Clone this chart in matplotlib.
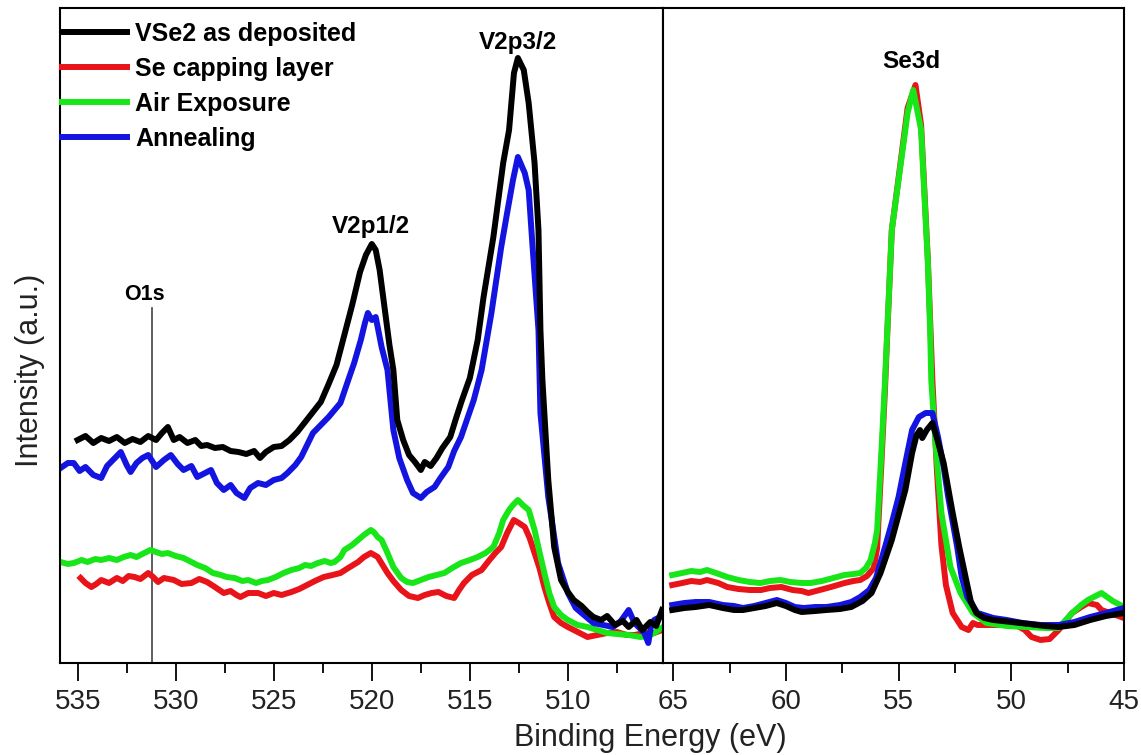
import matplotlib
matplotlib.use("Agg")
import matplotlib.pyplot as plt
from matplotlib.ticker import MultipleLocator

# ---- V2p region (binding energy in eV, intensity in a.u.) ----
e_dep_v = [535.0, 534.6, 534.2, 533.8, 533.4, 533.0, 532.6, 532.2, 531.8, 531.4, 531.0, 530.7, 530.4, 530.1,
           529.8, 529.4, 529.0, 528.7, 528.4, 528.0, 527.6, 527.2, 526.8, 526.4, 526.0, 525.7, 525.4, 525.0,
           524.6, 524.2, 523.8, 523.4, 523.0, 522.6, 522.2, 521.8, 521.4, 521.0, 520.6, 520.3, 520.0, 519.8,
           519.6, 519.4, 519.1, 518.9, 518.7, 518.4, 518.1, 517.8, 517.5, 517.3, 517.0, 516.7, 516.4, 516.0,
           515.7, 515.4, 515.0, 514.6, 514.3, 513.8, 513.3, 513.0, 512.75, 512.55, 512.25, 512.0, 511.7, 511.5,
           511.4, 511.3, 511.0, 510.7, 510.35, 510.0, 509.7, 509.3, 509.0, 508.7, 508.3, 508.0, 507.6, 507.2,
           506.9, 506.5, 506.2, 505.8, 505.5, 505.2]
i_dep_v = [223, 227, 220, 225, 222, 226, 220, 224, 221, 227, 223, 230, 236, 223,
           226, 220, 223, 217, 218, 215, 216, 212, 211, 209, 212, 205, 211, 216,
           217, 223, 231, 241, 251, 261, 279, 298, 328, 358, 391, 408, 419, 413,
           393, 363, 318, 293, 243, 223, 208, 201, 193, 201, 197, 205, 215, 226,
           245, 263, 285, 323, 366, 426, 500, 533, 590, 605, 593, 560, 500, 433,
           333, 283, 183, 116, 83, 71, 63, 57, 51, 46, 43, 47, 38, 42,
           36, 43, 33, 41, 37, 53]

e_cap_v = [534.85, 534.6, 534.3, 534.05, 533.8, 533.4, 533.0, 532.7, 532.4, 532.1, 531.8, 531.4, 531.15, 530.9,
           530.6, 530.1, 529.7, 529.2, 528.8, 528.4, 528.0, 527.55, 527.2, 526.9, 526.7, 526.3, 525.8, 525.4,
           525.0, 524.6, 524.1, 523.7, 523.3, 522.9, 522.45, 522.0, 521.6, 521.2, 520.7, 520.4, 520.05, 519.7,
           519.45, 519.2, 518.9, 518.5, 518.1, 517.65, 517.3, 516.95, 516.6, 516.2, 515.8, 515.55, 515.3, 514.9,
           514.4, 514.0, 513.7, 513.4, 513.1, 512.76, 512.5, 512.2, 511.95, 511.7, 511.45, 511.2, 510.95, 510.7,
           510.35, 510.0, 509.5, 509.0, 508.5, 508.0, 507.5, 507.0, 506.6, 506.1, 505.6, 505.2]
i_cap_v = [85, 80, 76, 79, 83, 80, 85, 82, 87, 86, 84, 90, 86, 81,
           85, 83, 79, 80, 84, 81, 76, 70, 72, 68, 66, 70, 70, 67,
           70, 68, 71, 74, 78, 82, 86, 88, 90, 95, 101, 106, 110, 106,
           98, 90, 82, 73, 67, 65, 68, 70, 71, 67, 65, 73, 80, 88,
           93, 103, 110, 116, 130, 143, 140, 136, 125, 110, 95, 76, 60, 46,
           40, 36, 31, 26, 28, 30, 31, 28, 28, 30, 30, 33]

e_air_v = [535.87, 535.5, 535.2, 534.8, 534.5, 534.1, 533.8, 533.4, 533.0, 532.65, 532.3, 532.0, 531.6, 531.3,
           531.0, 530.7, 530.4, 530.0, 529.6, 529.2, 528.9, 528.5, 528.1, 527.7, 527.4, 527.0, 526.6, 526.3,
           525.9, 525.6, 525.3, 524.9, 524.5, 524.1, 523.7, 523.4, 523.1, 522.75, 522.4, 522.1, 521.9, 521.6,
           521.4, 521.0, 520.7, 520.4, 520.05, 519.9, 519.7, 519.5, 519.2, 518.9, 518.5, 518.2, 517.9, 517.5,
           517.1, 516.7, 516.3, 515.9, 515.45, 515.0, 514.6, 514.2, 513.8, 513.5, 513.3, 513.0, 512.8, 512.55,
           512.3, 512.0, 511.7, 511.45, 511.2, 510.95, 510.7, 510.35, 510.0, 509.5, 509.0, 508.5, 508.0, 507.5,
           506.9, 506.3, 505.9, 505.6, 505.15]
i_air_v = [101, 99, 100, 103, 101, 104, 103, 105, 103, 106, 108, 106, 110, 113,
           111, 109, 110, 107, 105, 101, 98, 95, 90, 88, 86, 85, 82, 83,
           80, 82, 83, 86, 90, 93, 95, 98, 97, 100, 102, 100, 101, 106,
           113, 118, 123, 128, 133, 131, 126, 123, 110, 96, 85, 81, 80, 83,
           86, 88, 90, 95, 100, 103, 106, 110, 116, 130, 143, 153, 158, 163,
           158, 153, 133, 111, 90, 70, 56, 48, 43, 38, 36, 33, 30, 29,
           28, 26, 27, 30, 36]

e_ann_v = [535.87, 535.5, 535.2, 534.9, 534.6, 534.2, 533.8, 533.5, 533.1, 532.8, 532.5, 532.3, 532.0, 531.7,
           531.4, 531.0, 530.6, 530.25, 529.9, 529.6, 529.2, 528.9, 528.5, 528.2, 527.9, 527.55, 527.2, 526.9,
           526.5, 526.2, 525.8, 525.4, 525.0, 524.6, 524.3, 523.9, 523.6, 523.3, 523.0, 522.6, 522.2, 521.9,
           521.6, 521.2, 520.9, 520.56, 520.35, 520.2, 520.0, 519.8, 519.5, 519.2, 518.9, 518.6, 518.2, 517.9,
           517.5, 517.2, 516.8, 516.5, 516.1, 515.8, 515.45, 515.1, 514.8, 514.4, 513.9, 513.4, 513.1, 512.8,
           512.55, 512.2, 512.0, 511.8, 511.5, 511.4, 511.0, 510.5, 510.0, 509.6, 509.3, 508.7, 508.2, 507.7,
           507.3, 506.9, 506.6, 506.4, 506.1, 505.9, 505.75, 505.6, 505.3]
i_ann_v = [195, 200, 200, 192, 196, 188, 185, 197, 205, 211, 198, 191, 200, 205,
           208, 196, 203, 208, 199, 193, 197, 186, 190, 193, 180, 173, 178, 170,
           165, 175, 180, 178, 183, 185, 190, 198, 206, 218, 230, 238, 246, 253,
           260, 283, 300, 323, 340, 350, 343, 346, 316, 293, 233, 205, 183, 170,
           165, 171, 176, 185, 196, 212, 226, 246, 263, 293, 350, 416, 450, 483,
           506, 490, 473, 416, 333, 250, 166, 100, 70, 55, 50, 40, 38, 36,
           42, 53, 40, 36, 30, 20, 38, 43, 46]

# ---- Se3d region ----
e_dep_se = [65.04, 64.5, 64.0, 63.4, 62.8, 62.3, 61.9, 61.4, 60.9, 60.4, 60.0, 59.6, 59.3, 58.7, 58.2,
            57.6, 57.1, 56.6, 56.2, 55.8, 55.3, 55.0, 54.7, 54.4, 54.2, 54.05, 53.95, 53.75, 53.5, 53.3,
            53.0, 52.8, 52.6, 52.3, 52.0, 51.8, 51.55, 51.2, 50.8, 50.0, 49.2, 48.5, 47.9, 47.2, 46.5,
            45.8, 45.0]
i_dep_se = [53, 55, 56, 58, 55, 53, 53, 55, 57, 60, 57, 53, 51, 52, 53,
            54, 56, 62, 70, 90, 123, 148, 173, 210, 228, 233, 225, 233, 240, 225,
            200, 175, 150, 115, 83, 62, 50, 45, 43, 41, 39, 37, 36, 38, 43,
            47, 50]

e_cap_se = [65.04, 64.6, 64.2, 63.8, 63.5, 63.0, 62.6, 62.1, 61.6, 61.1, 60.7, 60.2, 59.7, 59.3, 59.0,
            58.5, 58.0, 57.4, 57.0, 56.7, 56.4, 56.1, 55.95, 55.75, 55.6, 55.5, 55.3, 55.0, 54.6, 54.25,
            54.0, 53.7, 53.5, 53.3, 53.1, 52.9, 52.6, 52.2, 51.9, 51.7, 51.5, 51.3, 50.5, 49.8, 49.4,
            49.1, 48.7, 48.3, 47.9, 47.6, 47.3, 46.9, 46.6, 46.2, 46.0, 45.5, 45.0]
i_cap_se = [78, 80, 82, 81, 83, 80, 76, 74, 73, 73, 75, 76, 73, 72, 70,
            73, 76, 80, 82, 83, 87, 95, 115, 205, 275, 330, 433, 485, 555, 578,
            538, 403, 283, 193, 118, 78, 50, 36, 33, 40, 38, 38, 38, 38, 33,
            26, 23, 24, 33, 42, 50, 56, 60, 58, 53, 49, 45]

e_air_se = [65.04, 64.6, 64.2, 63.8, 63.5, 63.1, 62.6, 62.1, 61.6, 61.13, 60.7, 60.24, 59.8, 59.3, 58.9,
            58.4, 57.9, 57.4, 57.0, 56.7, 56.45, 56.24, 56.05, 55.95, 55.75, 55.6, 55.5, 55.3, 55.0, 54.6,
            54.35, 54.0, 53.7, 53.6, 53.55, 53.35, 53.1, 52.7, 52.25, 51.7, 51.1, 50.2, 49.3, 48.5, 47.9,
            47.5, 47.3, 46.9, 46.6, 46.0, 45.5, 45.0]
i_air_se = [88, 90, 92, 91, 93, 90, 86, 83, 81, 80, 82, 83, 81, 80, 80,
            82, 85, 88, 89, 90, 95, 103, 120, 133, 216, 283, 333, 433, 483, 550,
            573, 533, 400, 333, 283, 216, 150, 96, 70, 50, 40, 37, 36, 35, 35,
            45, 50, 58, 63, 70, 62, 56]

e_ann_se = [65.04, 64.5, 64.0, 63.4, 62.8, 62.3, 61.9, 61.4, 60.9, 60.4, 60.0, 59.6, 59.2, 58.7, 58.2,
            57.6, 57.1, 56.7, 56.3, 56.0, 55.6, 55.3, 55.0, 54.7, 54.4, 54.1, 53.8, 53.5, 53.25, 53.0,
            52.8, 52.4, 52.2, 51.95, 51.5, 50.8, 50.2, 49.5, 48.7, 47.9, 47.2, 46.5, 45.8, 45.0]
i_ann_se = [58, 60, 61, 61, 58, 57, 55, 57, 60, 63, 60, 56, 55, 56, 56,
            58, 61, 66, 73, 85, 116, 140, 166, 200, 233, 246, 250, 250, 226, 196,
            166, 116, 86, 66, 50, 45, 43, 40, 38, 38, 41, 46, 50, 55]

labels = ["VSe2 as deposited", "Se capping layer", "Air Exposure", "Annealing"]
colors = ["#000000", "#e8141a", "#19e619", "#1414e0"]

o1s_energy = 531.2

plt.rcParams["font.family"] = ["Liberation Sans", "DejaVu Sans"]

fig = plt.figure(figsize=(11.41, 7.55), dpi=100)
ax1 = fig.add_axes([60 / 1141, 1 - 663 / 755, 603 / 1141, 655 / 755])
ax2 = fig.add_axes([663 / 1141, 1 - 663 / 755, 461 / 1141, 655 / 755])

lw = 4.3
v_series = [(e_cap_v, i_cap_v, 1), (e_air_v, i_air_v, 2), (e_ann_v, i_ann_v, 3), (e_dep_v, i_dep_v, 0)]
se_series = [(e_cap_se, i_cap_se, 1), (e_air_se, i_air_se, 2), (e_ann_se, i_ann_se, 3), (e_dep_se, i_dep_se, 0)]
for e, i, k in v_series:
    ax1.plot(e, i, color=colors[k], lw=lw, label=labels[k], solid_joinstyle="round")
for e, i, k in se_series:
    ax2.plot(e, i, color=colors[k], lw=lw, solid_joinstyle="round")

ax1.set_xlim(535.9, 505.15)
ax2.set_xlim(65.45, 45.0)
for ax in (ax1, ax2):
    ax.set_ylim(0, 655)
    ax.set_yticks([])
    ax.xaxis.set_major_locator(MultipleLocator(5))
    ax.xaxis.set_minor_locator(MultipleLocator(2.5))
    ax.tick_params(axis="x", which="major", direction="out", length=13, width=1.3, pad=6,
                   labelsize=20, labelcolor="#222222")
    ax.tick_params(axis="x", which="minor", direction="out", length=7, width=1.3)
    for s in ax.spines.values():
        s.set_linewidth(1.5)

# O1s reference line
ax1.plot([o1s_energy, o1s_energy], [0, 355], color="#444444", lw=1.2, zorder=0)

bold = dict(fontsize=17.5, fontweight="bold", ha="center", va="center")
ax1.text(531.6, 368, "O1s", fontsize=15.5, fontweight="bold", ha="center", va="center")
ax1.text(520.05, 436, "V2p1/2", **bold)
ax1.text(512.55, 620, "V2p3/2", **bold)
ax2.text(54.45, 601, "Se3d", **bold)

h, l = ax1.get_legend_handles_labels()
order = [3, 0, 1, 2]
ax1.legend([h[j] for j in order], [l[j] for j in order], loc="upper left",
           bbox_to_anchor=(0.004, 0.979), frameon=False, borderpad=0, borderaxespad=0,
           handlelength=2.6, handletextpad=0.3, labelspacing=0.44,
           prop=dict(family="Liberation Sans", weight="bold", size=18))

fig.text(650 / 1141, 1 - 738 / 755, "Binding Energy (eV)", ha="center", va="center",
         fontsize=22, color="#222222")
fig.text(30 / 1141, 1 - 370 / 755, "Intensity (a.u.)", ha="center", va="center",
         rotation=90, fontsize=22, color="#222222")

fig.savefig("out.png", dpi=100, facecolor="white")
